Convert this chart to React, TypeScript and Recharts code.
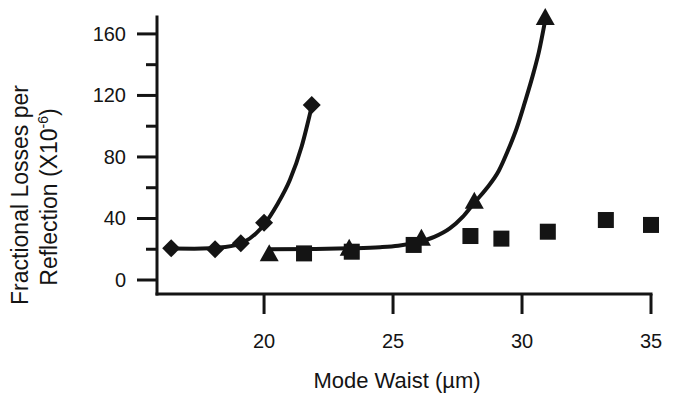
import { ComposedChart, Line, Scatter, XAxis, YAxis } from 'recharts';

const INK = '#141414';
const FONT = '"Liberation Sans", Arial, Helvetica, sans-serif';

// measured points: mode waist (µm) vs loss per reflection (x1e-6)
const diamondWaist = [16.4, 18.1, 19.1, 20.0, 21.85];
const diamondLoss = [20.6, 20.0, 23.9, 37.3, 113.8];

const triangleWaist = [20.2, 23.3, 26.1, 28.15, 30.9];
const triangleLoss = [17.4, 21.0, 27.5, 51.5, 171];

const squareWaist = [21.55, 23.4, 25.8, 28.0, 29.2, 31.0, 33.25, 35.0];
const squareLoss = [17.3, 18.4, 22.8, 28.6, 26.9, 31.4, 39.0, 35.8];

// fitted curves
const diamondFitWaist = [16.4, 17.3, 18.5, 19.2, 19.7, 20.0, 20.5, 21.0, 21.46, 21.85];
const diamondFitLoss = [20.5, 20.4, 21.5, 24.5, 30.5, 36, 48.8, 65, 87, 113];

const triangleFitWaist = [20.15, 22, 23.3, 24.5, 25.2, 26.0, 26.6, 27.2, 27.7, 28.14, 28.6, 29.1, 29.45, 29.8, 30.1, 30.45, 30.65, 30.9];
const triangleFitLoss = [20, 20.2, 20.6, 21.3, 22.3, 24.8, 28, 33.5, 41, 50, 59, 71, 84, 99, 115, 135, 148, 169];

const xTicks = [20, 25, 30, 35];
const yTicks = [0, 20, 40, 60, 80, 100, 120, 140, 160];

const zip = (xs: number[], ys: number[]) => xs.map((x, i) => ({ x, y: ys[i] }));

function DiamondMark({ cx, cy }: any) {
  const r = 9;
  return <polygon points={`${cx},${cy - r} ${cx + r},${cy} ${cx},${cy + r} ${cx - r},${cy}`} fill={INK} />;
}

function TriangleMark({ cx, cy }: any) {
  return <polygon points={`${cx},${cy - 9} ${cx + 9.5},${cy + 8} ${cx - 9.5},${cy + 8}`} fill={INK} />;
}

function SquareMark({ cx, cy }: any) {
  return <rect x={cx - 8} y={cy - 8} width={16} height={16} fill={INK} />;
}

function XTick({ x, y, payload }: any) {
  return (
    <g>
      <line x1={x} x2={x} y1={y} y2={y + 20} stroke={INK} strokeWidth={3} />
      <text x={x} y={y + 54} textAnchor="middle" fontSize={20} fill={INK} fontFamily={FONT}>
        {payload.value}
      </text>
    </g>
  );
}

function YTick({ x, y, payload }: any) {
  const major = payload.value % 40 === 0;
  return (
    <g>
      <line x1={x - (major ? 20 : 11)} x2={x} y1={y} y2={y} stroke={INK} strokeWidth={3} />
      {major && (
        <text x={x - 31} y={y + 7} textAnchor="end" fontSize={20} fill={INK} fontFamily={FONT}>
          {payload.value}
        </text>
      )}
    </g>
  );
}

function XTitle({ viewBox }: any) {
  const { x, y } = viewBox;
  return (
    <text x={x + 240} y={y + 94} textAnchor="middle" fontSize={22} fill={INK} fontFamily={FONT}>
      Mode Waist (µm)
    </text>
  );
}

function YTitle({ viewBox }: any) {
  const { x, y } = viewBox;
  return (
    <g fontSize={23} fill={INK} fontFamily={FONT}>
      <text transform={`translate(${x - 128}, ${y + 178}) rotate(-90)`} textAnchor="middle">
        Fractional Losses per
      </text>
      <text transform={`translate(${x - 99}, ${y + 180}) rotate(-90)`} textAnchor="middle">
        Reflection (X10
        <tspan dy={-9} fontSize={14}>-6</tspan>
        <tspan dy={9}>)</tspan>
      </text>
    </g>
  );
}

export default function App() {
  return (
    <div style={{ position: 'absolute', left: 0, top: 0, background: '#fff' }}>
      <ComposedChart width={675} height={393} margin={{ top: 17, right: 24, bottom: 98, left: 156 }}>
        <XAxis
          type="number"
          dataKey="x"
          domain={[15.85, 35]}
          ticks={xTicks}
          height={1}
          tickSize={0}
          tickMargin={0}
          tickLine={false}
          tick={<XTick />}
          axisLine={{ stroke: INK, strokeWidth: 3, strokeLinecap: 'square' }}
          label={<XTitle />}
        />
        <YAxis
          type="number"
          dataKey="y"
          domain={[-9.1, 171]}
          ticks={yTicks}
          width={1}
          tickSize={0}
          tickMargin={0}
          tickLine={false}
          tick={<YTick />}
          axisLine={{ stroke: INK, strokeWidth: 3, strokeLinecap: 'square' }}
          label={<YTitle />}
        />
        <Line
          data={zip(diamondFitWaist, diamondFitLoss)}
          dataKey="y"
          type="monotone"
          stroke={INK}
          strokeWidth={4}
          dot={false}
          isAnimationActive={false}
        />
        <Line
          data={zip(triangleFitWaist, triangleFitLoss)}
          dataKey="y"
          type="monotone"
          stroke={INK}
          strokeWidth={4}
          dot={false}
          isAnimationActive={false}
        />
        <Scatter data={zip(diamondWaist, diamondLoss)} dataKey="y" shape={<DiamondMark />} isAnimationActive={false} />
        <Scatter data={zip(triangleWaist, triangleLoss)} dataKey="y" shape={<TriangleMark />} isAnimationActive={false} />
        <Scatter data={zip(squareWaist, squareLoss)} dataKey="y" shape={<SquareMark />} isAnimationActive={false} />
      </ComposedChart>
    </div>
  );
}
